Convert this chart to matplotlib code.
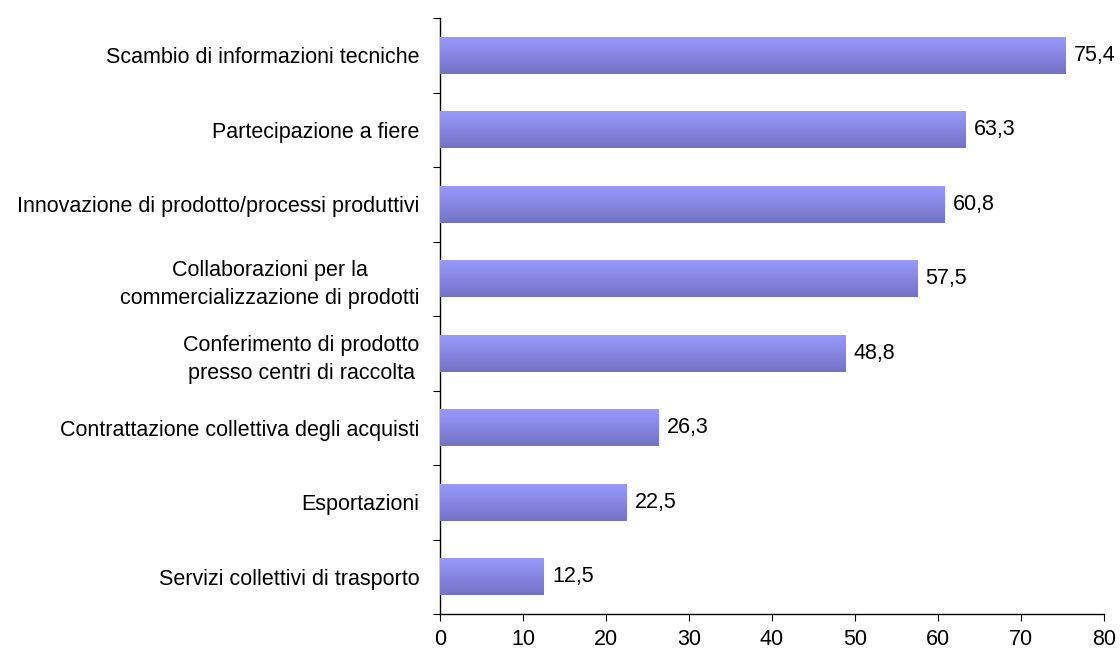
import numpy as np
import matplotlib
matplotlib.use("Agg")
import matplotlib.pyplot as plt
from matplotlib.colors import LinearSegmentedColormap

plt.rcParams['font.family'] = ['Liberation Sans', 'DejaVu Sans']

categories = [
    "Scambio di informazioni tecniche",
    "Partecipazione a fiere",
    "Innovazione di prodotto/processi produttivi",
    "Collaborazioni per la\ncommercializzazione di prodotti",
    "Conferimento di prodotto\npresso centri di raccolta",
    "Contrattazione collettiva degli acquisti",
    "Esportazioni",
    "Servizi collettivi di trasporto",
]
values = [75.4, 63.3, 60.8, 57.5, 48.8, 26.3, 22.5, 12.5]
x_ticks = [0, 10, 20, 30, 40, 50, 60, 70, 80]

FS = 15.5

fig = plt.figure(figsize=(11.2, 6.57), dpi=100)
ax = fig.add_axes([0.3929, 0.0654, 0.5928, 0.9072])

n = len(categories)
pos = np.arange(n)[::-1]
bars = ax.barh(pos, values, height=0.5, color='#8888E6', edgecolor='none', zorder=2)

# vertical gradient fill for each bar
cmap = LinearSegmentedColormap.from_list('barfill', ['#7373C4', '#9A9AFF'])
grad = np.linspace(0, 1, 256).reshape(-1, 1)
for b in bars:
    x0, y0 = b.get_x(), b.get_y()
    w, h = b.get_width(), b.get_height()
    im = ax.imshow(grad, cmap=cmap, aspect='auto', origin='lower',
                   extent=[x0, x0 + w, y0, y0 + h], zorder=3)
    im.set_clip_path(b)

for p, v in zip(pos, values):
    ax.text(v + 1.0, p, f"{v:.1f}".replace('.', ','), va='center', ha='left',
            fontsize=FS, color='black')

ax.set_xlim(0, 80)
ax.set_ylim(-0.5, n - 0.5)
ax.set_xticks(x_ticks)
ax.set_xticklabels([str(t) for t in x_ticks], fontsize=FS)
ax.set_yticks(pos)
ax.set_yticklabels(categories, fontsize=FS, multialignment='center', linespacing=1.45)
ax.tick_params(axis='y', which='major', length=0, pad=15)
ax.set_yticks(np.arange(-0.5, n, 1.0), minor=True)
ax.tick_params(axis='y', which='minor', length=5, width=0.8, direction='out')
ax.tick_params(axis='x', length=5, width=0.8, direction='out', pad=6)

for s in ['top', 'right']:
    ax.spines[s].set_visible(False)
for s in ['left', 'bottom']:
    ax.spines[s].set_linewidth(1.0)

fig.savefig('out.png', dpi=100)
